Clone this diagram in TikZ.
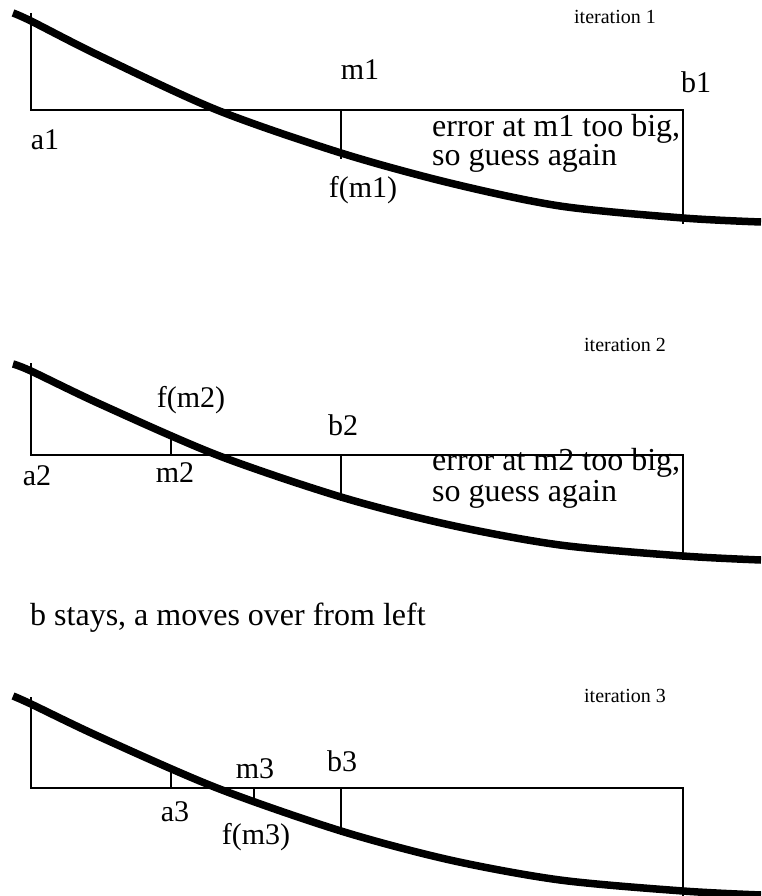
\documentclass[tikz,border=0pt]{standalone}
\usepackage{fontspec}
\setmainfont{Liberation Serif}
\begin{document}
\begin{tikzpicture}[x=1pt,y=-1pt,
  frame/.style={line width=1.8pt},
  fcurve/.style={line width=7.5pt},
  lbl/.style={inner sep=0pt, font=\fontsize{30}{30}\selectfont, anchor=base},
  note/.style={inner sep=0pt, font=\fontsize{32}{32}\selectfont, anchor=base west},
  iter/.style={inner sep=0pt, font=\fontsize{20}{20}\selectfont, anchor=base}]
\useasboundingbox (0,0) rectangle (761,896);

% ---------- panel 1 ----------
\coordinate (p1top) at (31,13);
\coordinate (p1a) at (31,110);
\coordinate (p1b) at (683,110);
\coordinate (p1bend) at (683,224);
\coordinate (p1m) at (341,110);
\coordinate (p1mend) at (341,159);
\draw[frame] (p1top) -- (p1a) -- (p1b) -- (p1bend);
\draw[frame] (p1m) -- (p1mend);
\draw[fcurve] plot[smooth] coordinates {(13,13) (31,21) (100,56) (217,110) (341,153) (450,183) (560,206) (683,218) (761,222)};
\node[iter] (it1) at (615,24) {iteration 1};
\node[lbl] (m1) at (360,80) {m1};
\node[lbl] (b1) at (696,93) {b1};
\node[lbl] (a1) at (45,150) {a1};
\node[lbl] (fm1) at (363,197) {f(m1)};
\node[note] (e1a) at (432,137) {error at m1 too big,};
\node[note] (e1b) at (432,166) {so guess again};

% ---------- panel 2 ----------
\coordinate (p2top) at (31,363);
\coordinate (p2a) at (31,455);
\coordinate (p2b) at (683,455);
\coordinate (p2bend) at (683,560);
\coordinate (p2m) at (171,455);
\coordinate (p2mend) at (171,436);
\coordinate (p2r) at (341,455);
\coordinate (p2rend) at (341,501);
\draw[frame] (p2top) -- (p2a) -- (p2b) -- (p2bend);
\draw[frame] (p2m) -- (p2mend);
\draw[frame] (p2r) -- (p2rend);
\draw[fcurve] plot[smooth] coordinates {(13,364) (31,371) (100,404) (217,455) (341,497) (450,525) (560,545) (683,556) (761,560)};
\node[iter] (it2) at (625,351) {iteration 2};
\node[lbl] (fm2) at (191,407) {f(m2)};
\node[lbl] (b2) at (343,435) {b2};
\node[lbl] (a2) at (37,485) {a2};
\node[lbl] (m2) at (175,482) {m2};
\node[note] (e2a) at (432,470) {error at m2 too big,};
\node[note] (e2b) at (432,501) {so guess again};

\node[note] (stay) at (30,625) {b stays, a moves over from left};

% ---------- panel 3 ----------
\coordinate (p3top) at (31,697);
\coordinate (p3a) at (31,788);
\coordinate (p3b) at (683,788);
\coordinate (p3bend) at (683,896);
\coordinate (p3l) at (171,788);
\coordinate (p3lend) at (171,771);
\coordinate (p3m) at (254,788);
\coordinate (p3mend) at (254,799);
\coordinate (p3r) at (341,788);
\coordinate (p3rend) at (341,835);
\draw[frame] (p3top) -- (p3a) -- (p3b) -- (p3bend);
\draw[frame] (p3l) -- (p3lend);
\draw[frame] (p3m) -- (p3mend);
\draw[frame] (p3r) -- (p3rend);
\draw[fcurve] plot[smooth] coordinates {(13,696) (31,704) (100,737) (217,788) (341,831) (450,860) (560,880) (683,891) (761,895)};
\node[iter] (it3) at (625,702) {iteration 3};
\node[lbl] (m3) at (255,778) {m3};
\node[lbl] (b3) at (342,771) {b3};
\node[lbl] (a3) at (175,821) {a3};
\node[lbl] (fm3) at (256,844) {f(m3)};
\end{tikzpicture}
\end{document}
